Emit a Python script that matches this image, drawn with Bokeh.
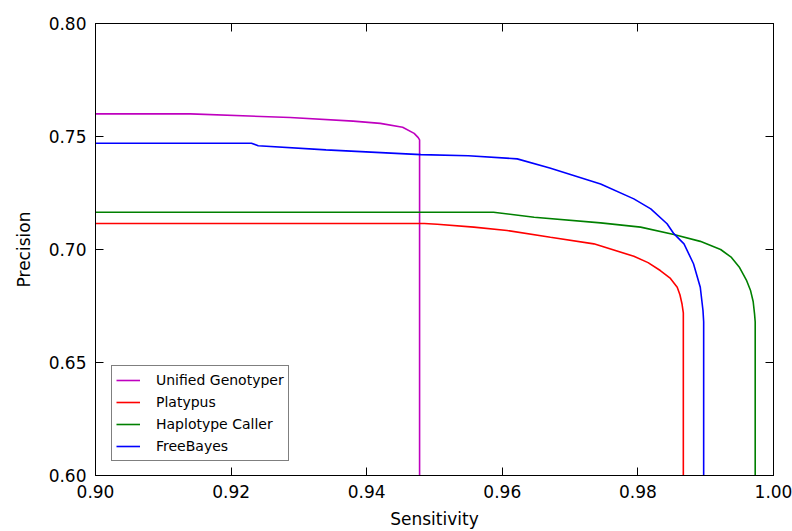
from bokeh.plotting import figure
from bokeh.models import LinearAxis, Range1d, FixedTicker, Legend, LegendItem, CustomJSTickFormatter
from bokeh.embed import file_html
from bokeh.resources import INLINE

# ---- data ----
ug_sens = [0.900, 0.914, 0.9287, 0.938, 0.942, 0.9453, 0.947, 0.9476, 0.9478, 0.9478]
ug_prec = [0.760, 0.760, 0.7584, 0.7568, 0.7558, 0.7541, 0.7514, 0.7495, 0.7485, 0.55]

pl_sens = [0.900, 0.9485, 0.9504, 0.9558, 0.9607, 0.9671, 0.9735, 0.9794, 0.9815, 0.9833, 0.9848, 0.9858,
           0.9862, 0.9865, 0.9867, 0.9867]
pl_prec = [0.7115, 0.7115, 0.7112, 0.7099, 0.7084, 0.7054, 0.7025, 0.6970, 0.6942, 0.6907, 0.6872, 0.6833,
           0.6800, 0.6760, 0.6720, 0.55]

hc_sens = [0.900, 0.9587, 0.9647, 0.9745, 0.9804, 0.9853, 0.9892, 0.9922, 0.9938, 0.9950, 0.9960, 0.9966,
           0.9970, 0.9972, 0.9973, 0.9973]
hc_prec = [0.7165, 0.7165, 0.7143, 0.7118, 0.7099, 0.7066, 0.7036, 0.7000, 0.6965, 0.6920, 0.6865, 0.6820,
           0.6770, 0.6716, 0.6680, 0.55]

fb_sens = [0.900, 0.923, 0.924, 0.934, 0.948, 0.955, 0.9622, 0.967, 0.9745, 0.9794, 0.9819, 0.9843, 0.9853,
           0.9868, 0.9882, 0.9892, 0.9896, 0.9897, 0.9897]
fb_prec = [0.747, 0.747, 0.7459, 0.7441, 0.742, 0.7415, 0.7401, 0.7361, 0.7290, 0.7224, 0.7180, 0.7114, 0.7070,
           0.7025, 0.6937, 0.6833, 0.6730, 0.6680, 0.55]

series_names = ["Unified Genotyper", "Platypus", "Haplotype Caller", "FreeBayes"]
series_colors = ["#bf00bf", "#ff0000", "#008000", "#0000ff"]

x_ticks = [0.90, 0.92, 0.94, 0.96, 0.98, 1.00]
y_ticks = [0.60, 0.65, 0.70, 0.75, 0.80]

FONT = "DejaVu Sans"

p = figure(frame_width=678, frame_height=452, output_backend="svg", toolbar_location=None,
           x_range=Range1d(0.90, 1.00), y_range=Range1d(0.60, 0.80),
           min_border_left=95, min_border_right=19, min_border_top=23, min_border_bottom=56)
p.grid.visible = False
p.outline_line_color = "black"
p.outline_line_width = 1
p.background_fill_color = "white"
p.border_fill_color = "white"

data = [(ug_sens, ug_prec), (pl_sens, pl_prec), (hc_sens, hc_prec), (fb_sens, fb_prec)]
renderers = []
for (xs, ys), name, col in zip(data, series_names, series_colors):
    r = p.line(xs, ys, line_color=col, line_width=1.6)
    renderers.append(r)

def style_axis(ax, ticks, show_labels=True):
    ax.ticker = FixedTicker(ticks=ticks)
    ax.major_tick_in = 8
    ax.major_tick_out = 0
    ax.minor_tick_line_color = None
    ax.major_tick_line_color = "black"
    ax.axis_line_color = "black"
    ax.major_label_text_font = FONT
    ax.major_label_text_font_size = "17px" if show_labels else "0px"
    ax.major_label_text_color = "black" if show_labels else None
    ax.major_label_standoff = 9
    ax.axis_label_text_font = FONT
    ax.axis_label_text_font_size = "17px"
    ax.axis_label_text_font_style = "normal"
    ax.axis_label_text_color = "black"

p.xaxis.axis_label = "Sensitivity"
p.yaxis.axis_label = "Precision"
style_axis(p.xaxis[0], x_ticks)
style_axis(p.yaxis[0], y_ticks)
p.xaxis[0].formatter = CustomJSTickFormatter(code="return tick.toFixed(2);")
p.yaxis[0].formatter = CustomJSTickFormatter(code="return tick.toFixed(2);")
p.xaxis[0].major_label_standoff = 9
p.xaxis[0].axis_label_standoff = 8
p.yaxis[0].axis_label_standoff = 12

ax_r = LinearAxis()
style_axis(ax_r, y_ticks, show_labels=False)
p.add_layout(ax_r, "right")
ax_t = LinearAxis()
style_axis(ax_t, x_ticks, show_labels=False)
p.add_layout(ax_t, "above")

legend = Legend(items=[LegendItem(label=n, renderers=[r]) for n, r in zip(series_names, renderers)],
                location=(16, 14))
legend.label_text_font = FONT
legend.label_text_font_size = "14px"
legend.label_text_color = "black"
legend.glyph_width = 24
legend.glyph_height = 20
legend.label_height = 20
legend.spacing = 2
legend.padding = 4
legend.margin = 0
legend.label_standoff = 16
legend.border_line_color = "black"
legend.border_line_width = 1.2
legend.background_fill_alpha = 1
p.add_layout(legend, "center")

open("out.html", "w").write(file_html(p, INLINE))
